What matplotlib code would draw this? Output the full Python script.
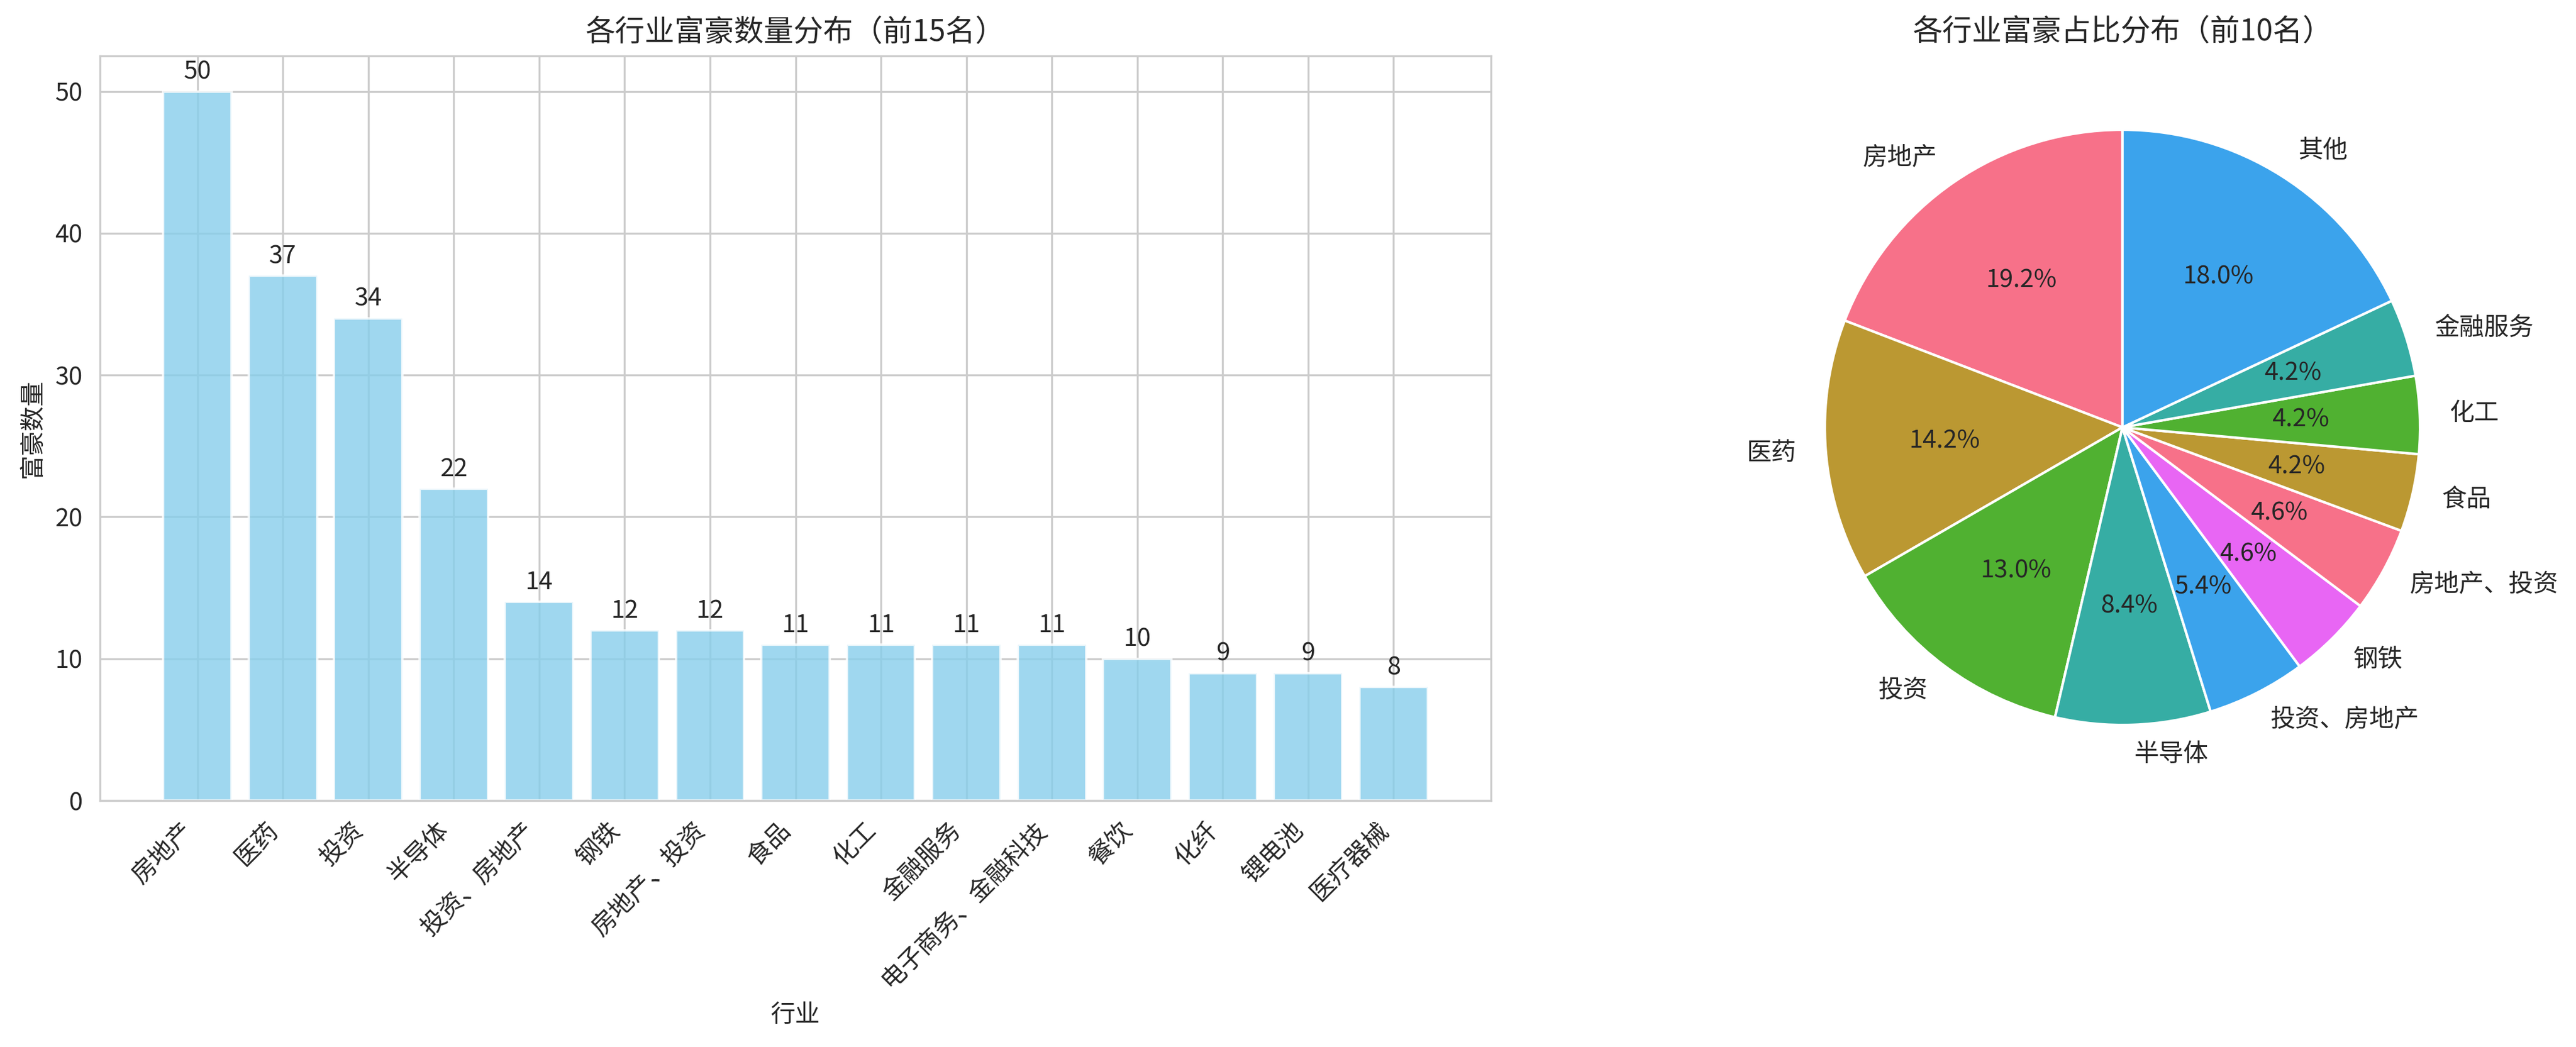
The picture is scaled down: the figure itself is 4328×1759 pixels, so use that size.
import matplotlib
matplotlib.use("Agg")
import matplotlib.pyplot as plt
import seaborn as sns
import numpy as np

# ---- data ----
industries = ["房地产", "医药", "投资", "半导体", "投资、房地产", "钢铁", "房地产、投资",
              "食品", "化工", "金融服务", "电子商务、金融科技", "餐饮", "化纤", "锂电池", "医疗器械"]
counts = [50, 37, 34, 22, 14, 12, 12, 11, 11, 11, 11, 10, 9, 9, 8]

pie_labels = ["房地产", "医药", "投资", "半导体", "投资、房地产", "钢铁", "房地产、投资",
              "食品", "化工", "金融服务", "其他"]
pie_values = [50, 37, 34, 22, 14, 12, 12, 11, 11, 11, 47]

bar_title = "各行业富豪数量分布（前15名）"
pie_title = "各行业富豪占比分布（前10名）"
x_label = "行业"
y_label = "富豪数量"

sns.set_style("whitegrid")
plt.rcParams['font.family'] = ['Noto Sans CJK SC', 'DejaVu Sans']
plt.rcParams['axes.unicode_minus'] = False

W, H, DPI = 4328, 1759, 300
fig = plt.figure(figsize=(W / DPI, H / DPI), dpi=DPI)

# bar axes (pixel-based placement)
bl, br, bt, bb = 168, 2505, 94, 1345
ax1 = fig.add_axes([bl / W, 1 - bb / H, (br - bl) / W, (bb - bt) / H])
x = np.arange(len(industries))
ax1.bar(x, counts, color='skyblue', alpha=0.8)
for xi, v in zip(x, counts):
    ax1.text(xi, v + 0.5, str(v), ha='center', va='bottom', fontsize=10)
ax1.set_xticks(x)
ax1.set_xticklabels(industries, rotation=45, ha='right')
ax1.set_title(bar_title, fontsize=12)
ax1.set_xlabel(x_label)
ax1.set_ylabel(y_label)

# pie axes
pcx, pcy, side = 3566, 718, 1250
ax2 = fig.add_axes([(pcx - side / 2) / W, 1 - (pcy + side / 2) / H, side / W, side / H])
colors = sns.color_palette("husl", 6)
ax2.pie(pie_values, labels=pie_labels, autopct='%1.1f%%', startangle=90, colors=colors,
        textprops={'fontsize': 10})
ax2.set_xlim(-1.25, 1.25)
ax2.set_ylim(-1.25, 1.25)
ax2.set_aspect('equal')
ax2.set_title(pie_title, fontsize=12)

fig.savefig("out.png", dpi=DPI)
